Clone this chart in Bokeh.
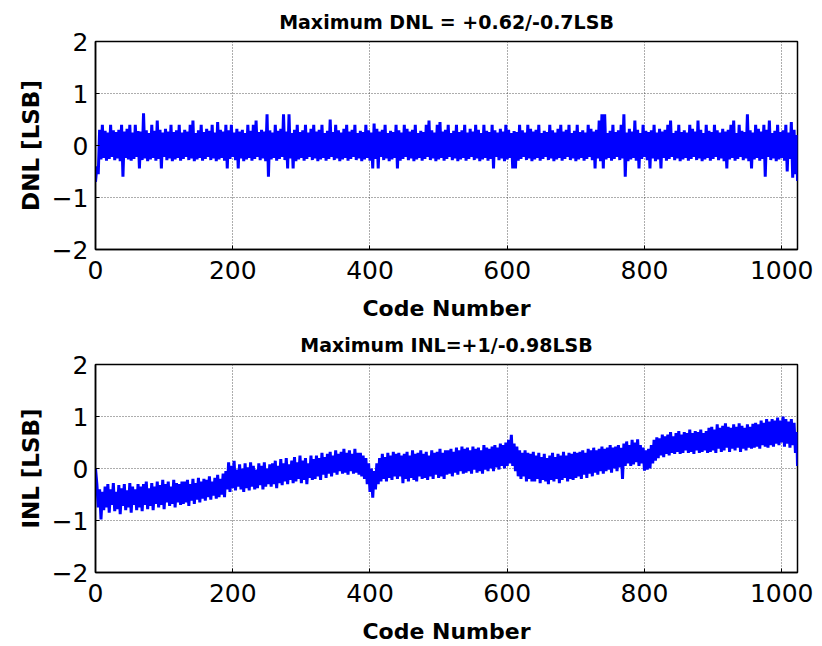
from bokeh.plotting import figure
from bokeh.layouts import column
from bokeh.models import Range1d, FixedTicker
from bokeh.embed import file_html
from bokeh.resources import INLINE

# ---- data ----
codes = list(range(0, 1024, 2)) + [1023]

dnl = [
    -0.70, -0.40, -0.55, 0.30, -0.27, 0.40, -0.24, 0.28, -0.29, 0.25, -0.26, 0.40, -0.22, 0.29, -0.28, 0.26,
    -0.25, 0.30, -0.30, 0.40, -0.60, 0.27, -0.24, 0.32, -0.27, 0.40, -0.29, 0.25, -0.26, 0.40, -0.22, 0.28,
    -0.44, 0.27, -0.28, 0.62, -0.25, 0.29, -0.30, 0.24, -0.27, 0.40, -0.24, 0.28, -0.29, 0.48, -0.26, 0.30,
    -0.44, 0.25, -0.22, 0.32, -0.28, 0.27, -0.25, 0.40, -0.30, 0.26, -0.27, 0.29, -0.24, 0.40, -0.29, 0.25,
    -0.26, 0.30, -0.22, 0.27, -0.28, 0.40, -0.25, 0.48, -0.30, 0.24, -0.27, 0.29, -0.24, 0.40, -0.29, 0.26,
    -0.26, 0.32, -0.22, 0.28, -0.28, 0.40, -0.25, 0.25, -0.30, 0.45, -0.27, 0.30, -0.24, 0.27, -0.29, 0.40,
    -0.44, 0.29, -0.26, 0.40, -0.22, 0.25, -0.28, 0.32, -0.44, 0.27, -0.25, 0.30, -0.30, 0.24, -0.27, 0.40,
    -0.24, 0.28, -0.29, 0.40, -0.26, 0.48, -0.22, 0.26, -0.28, 0.30, -0.25, 0.27, -0.30, 0.60, -0.60, 0.29,
    -0.27, 0.25, -0.24, 0.40, -0.29, 0.28, -0.26, 0.32, -0.22, 0.60, -0.28, 0.27, -0.44, 0.60, -0.25, 0.24,
    -0.44, 0.30, -0.30, 0.40, -0.27, 0.26, -0.24, 0.29, -0.29, 0.40, -0.26, 0.25, -0.22, 0.32, -0.28, 0.40,
    -0.25, 0.27, -0.30, 0.30, -0.27, 0.40, -0.24, 0.24, -0.29, 0.28, -0.26, 0.50, -0.22, 0.26, -0.28, 0.40,
    -0.25, 0.29, -0.30, 0.25, -0.27, 0.32, -0.24, 0.40, -0.29, 0.27, -0.26, 0.30, -0.22, 0.40, -0.28, 0.24,
    -0.25, 0.28, -0.30, 0.26, -0.27, 0.40, -0.24, 0.29, -0.29, 0.25, -0.44, 0.42, -0.26, 0.32, -0.44, 0.27,
    -0.22, 0.30, -0.28, 0.40, -0.25, 0.24, -0.30, 0.28, -0.27, 0.26, -0.24, 0.40, -0.44, 0.29, -0.29, 0.25,
    -0.26, 0.40, -0.22, 0.32, -0.28, 0.27, -0.25, 0.30, -0.30, 0.40, -0.27, 0.24, -0.24, 0.28, -0.29, 0.26,
    -0.26, 0.40, -0.22, 0.48, -0.28, 0.29, -0.25, 0.25, -0.30, 0.40, -0.27, 0.45, -0.24, 0.27, -0.29, 0.30,
    -0.26, 0.40, -0.22, 0.24, -0.28, 0.28, -0.25, 0.40, -0.30, 0.26, -0.27, 0.29, -0.24, 0.40, -0.29, 0.25,
    -0.26, 0.32, -0.22, 0.27, -0.28, 0.40, -0.25, 0.30, -0.30, 0.24, -0.27, 0.40, -0.24, 0.28, -0.29, 0.26,
    -0.26, 0.40, -0.44, 0.29, -0.22, 0.25, -0.28, 0.32, -0.25, 0.27, -0.30, 0.40, -0.27, 0.30, -0.24, 0.24,
    -0.44, 0.28, -0.44, 0.26, -0.29, 0.40, -0.26, 0.29, -0.22, 0.25, -0.28, 0.40, -0.25, 0.32, -0.30, 0.27,
    -0.27, 0.30, -0.24, 0.40, -0.29, 0.24, -0.26, 0.28, -0.22, 0.26, -0.28, 0.40, -0.25, 0.29, -0.30, 0.25,
    -0.27, 0.32, -0.24, 0.40, -0.29, 0.27, -0.26, 0.30, -0.22, 0.40, -0.28, 0.24, -0.25, 0.28, -0.30, 0.40,
    -0.27, 0.26, -0.24, 0.29, -0.29, 0.25, -0.26, 0.40, -0.22, 0.32, -0.28, 0.27, -0.44, 0.30, -0.25, 0.48,
    -0.30, 0.60, -0.44, 0.60, -0.27, 0.24, -0.24, 0.28, -0.29, 0.40, -0.26, 0.26, -0.22, 0.29, -0.28, 0.40,
    -0.25, 0.60, -0.60, 0.25, -0.30, 0.32, -0.27, 0.27, -0.24, 0.48, -0.29, 0.30, -0.44, 0.24, -0.26, 0.40,
    -0.22, 0.28, -0.28, 0.26, -0.44, 0.29, -0.25, 0.40, -0.30, 0.25, -0.27, 0.32, -0.44, 0.27, -0.24, 0.30,
    -0.29, 0.40, -0.26, 0.48, -0.22, 0.24, -0.28, 0.28, -0.25, 0.40, -0.30, 0.26, -0.27, 0.29, -0.24, 0.25,
    -0.29, 0.40, -0.26, 0.32, -0.22, 0.27, -0.28, 0.48, -0.25, 0.30, -0.30, 0.24, -0.27, 0.40, -0.24, 0.28,
    -0.29, 0.26, -0.26, 0.40, -0.22, 0.29, -0.28, 0.25, -0.25, 0.32, -0.30, 0.27, -0.44, 0.30, -0.27, 0.40,
    -0.24, 0.48, -0.29, 0.24, -0.26, 0.40, -0.22, 0.28, -0.28, 0.26, -0.25, 0.60, -0.30, 0.29, -0.44, 0.25,
    -0.27, 0.40, -0.24, 0.32, -0.29, 0.27, -0.26, 0.40, -0.60, 0.30, -0.22, 0.48, -0.28, 0.24, -0.25, 0.28,
    -0.30, 0.40, -0.27, 0.26, -0.24, 0.29, -0.29, 0.40, -0.50, 0.25, -0.26, 0.45, -0.62, 0.30, -0.55, 0.20,
    -0.68,
]

inl = [
    0.00, -0.30, -0.75, -0.40, -0.98, -0.45, -0.80, -0.35, -0.75, -0.30, -0.85, -0.40, -0.70, -0.28, -0.82, -0.45,
    -0.78, -0.32, -0.88, -0.38, -0.72, -0.30, -0.80, -0.42, -0.75, -0.28, -0.85, -0.35, -0.70, -0.40, -0.80, -0.30,
    -0.75, -0.35, -0.82, -0.30, -0.70, -0.25, -0.78, -0.38, -0.72, -0.28, -0.80, -0.35, -0.68, -0.25, -0.75, -0.32,
    -0.70, -0.22, -0.78, -0.30, -0.65, -0.25, -0.72, -0.35, -0.68, -0.22, -0.75, -0.28, -0.65, -0.30, -0.70, -0.25,
    -0.68, -0.25, -0.65, -0.22, -0.72, -0.30, -0.62, -0.20, -0.68, -0.28, -0.60, -0.18, -0.65, -0.25, -0.58, -0.20,
    -0.62, -0.22, -0.55, -0.15, -0.60, -0.25, -0.52, -0.18, -0.58, -0.12, -0.55, -0.20, -0.50, -0.10, -0.55, -0.05,
    -0.40, 0.12, -0.45, 0.05, -0.38, 0.15, -0.42, -0.02, -0.35, 0.08, -0.40, 0.00, -0.45, 0.10, -0.38, 0.02,
    -0.42, 0.12, -0.35, 0.05, -0.40, -0.02, -0.38, 0.10, -0.32, 0.05, -0.40, 0.12, -0.35, 0.00, -0.30, 0.08,
    -0.35, 0.10, -0.30, 0.15, -0.38, 0.05, -0.28, 0.18, -0.32, 0.10, -0.25, 0.20, -0.30, 0.08, -0.22, 0.15,
    -0.28, 0.22, -0.25, 0.12, -0.20, 0.25, -0.28, 0.15, -0.22, 0.20, -0.30, 0.10, -0.18, 0.25, -0.22, 0.18,
    -0.20, 0.25, -0.15, 0.20, -0.22, 0.30, -0.12, 0.22, -0.18, 0.28, -0.10, 0.32, -0.15, 0.25, -0.08, 0.35,
    -0.12, 0.28, -0.05, 0.32, -0.10, 0.38, -0.08, 0.30, -0.12, 0.35, -0.05, 0.28, -0.10, 0.38, -0.08, 0.30,
    -0.12, 0.30, -0.15, 0.25, -0.20, 0.20, -0.30, 0.10, -0.45, 0.00, -0.56, -0.05, -0.40, 0.10, -0.30, 0.20,
    -0.25, 0.28, -0.20, 0.22, -0.25, 0.30, -0.18, 0.25, -0.22, 0.32, -0.15, 0.28, -0.20, 0.30, -0.15, 0.25,
    -0.28, 0.28, -0.20, 0.32, -0.25, 0.25, -0.18, 0.35, -0.22, 0.28, -0.25, 0.30, -0.15, 0.35, -0.20, 0.28,
    -0.18, 0.32, -0.22, 0.25, -0.15, 0.35, -0.20, 0.30, -0.12, 0.32, -0.18, 0.38, -0.15, 0.30, -0.20, 0.35,
    -0.12, 0.35, -0.10, 0.38, -0.15, 0.32, -0.08, 0.40, -0.12, 0.35, -0.05, 0.42, -0.10, 0.38, -0.08, 0.40,
    -0.05, 0.35, -0.10, 0.42, -0.02, 0.38, -0.08, 0.40, -0.05, 0.35, -0.10, 0.45, -0.02, 0.40, -0.05, 0.38,
    0.00, 0.42, -0.05, 0.45, 0.02, 0.40, -0.02, 0.48, 0.05, 0.45, 0.00, 0.50, 0.05, 0.55, 0.10, 0.65,
    0.05, 0.48, -0.05, 0.42, -0.15, 0.35, -0.20, 0.30, -0.15, 0.35, -0.25, 0.30, -0.20, 0.28, -0.25, 0.32,
    -0.25, 0.25, -0.20, 0.30, -0.28, 0.22, -0.22, 0.28, -0.25, 0.20, -0.30, 0.25, -0.22, 0.30, -0.25, 0.22,
    -0.20, 0.28, -0.28, 0.25, -0.22, 0.32, -0.18, 0.25, -0.25, 0.30, -0.20, 0.28, -0.22, 0.32, -0.18, 0.30,
    -0.15, 0.32, -0.20, 0.35, -0.12, 0.30, -0.18, 0.38, -0.10, 0.35, -0.15, 0.40, -0.08, 0.35, -0.12, 0.38,
    -0.05, 0.42, -0.10, 0.38, -0.05, 0.40, -0.02, 0.45, -0.08, 0.40, 0.00, 0.42, -0.05, 0.45, 0.02, 0.40,
    -0.20, 0.48, 0.05, 0.52, 0.10, 0.45, 0.05, 0.55, 0.08, 0.50, 0.12, 0.56, 0.05, 0.45, 0.10, 0.40,
    -0.04, 0.35, -0.02, 0.38, 0.00, 0.45, 0.10, 0.55, 0.15, 0.60, 0.20, 0.58, 0.25, 0.65, 0.22, 0.62,
    0.28, 0.65, 0.25, 0.70, 0.30, 0.62, 0.28, 0.68, 0.32, 0.72, 0.28, 0.65, 0.30, 0.70, 0.35, 0.68,
    0.30, 0.75, 0.32, 0.68, 0.28, 0.72, 0.35, 0.70, 0.30, 0.75, 0.32, 0.68, 0.35, 0.72, 0.30, 0.78,
    0.32, 0.80, 0.35, 0.75, 0.30, 0.85, 0.38, 0.78, 0.32, 0.82, 0.35, 0.87, 0.40, 0.80, 0.32, 0.78,
    0.38, 0.85, 0.35, 0.80, 0.40, 0.87, 0.32, 0.82, 0.38, 0.78, 0.35, 0.85, 0.40, 0.80, 0.38, 0.86,
    0.40, 0.88, 0.42, 0.85, 0.38, 0.92, 0.45, 0.88, 0.42, 0.95, 0.40, 0.90, 0.45, 0.95, 0.42, 0.92,
    0.48, 0.98, 0.45, 0.92, 0.50, 1.00, 0.42, 0.95, 0.48, 0.90, 0.40, 0.95, 0.45, 0.88, 0.30, 0.70,
    0.05,
]

x_ticks = [0, 200, 400, 600, 800, 1000]
y_ticks = [-2, -1, 0, 1, 2]
y_tick_labels = {-2: "\u22122", -1: "\u22121", 0: "0", 1: "1", 2: "2"}
titles = ["Maximum DNL = +0.62/-0.7LSB", "Maximum INL=+1/-0.98LSB"]
y_labels = ["DNL [LSB]", "INL [LSB]"]
x_label = "Code Number"

FONT = "DejaVu Sans"


def make_panel(title, values, ylabel):
    p = figure(width=822, height=323,
               x_range=Range1d(0, 1023), y_range=Range1d(-2, 2),
               output_backend="svg", toolbar_location=None,
               min_border_left=95, min_border_right=25,
               min_border_top=41, min_border_bottom=68)
    p.title.text = title
    p.title.align = "center"
    p.title.text_font = FONT
    p.title.text_font_size = "19px"
    p.title.text_font_style = "bold"
    p.title.text_color = "black"
    p.title.standoff = 17

    p.line(codes, values, line_color="#0000ff", line_width=3)

    p.xaxis.ticker = FixedTicker(ticks=x_ticks)
    p.yaxis.ticker = FixedTicker(ticks=y_ticks)
    p.yaxis.major_label_overrides = y_tick_labels

    for ax in (p.xaxis[0], p.yaxis[0]):
        ax.axis_line_color = "black"
        ax.axis_line_width = 1.5
        ax.major_tick_in = 4
        ax.major_tick_out = 0
        ax.major_tick_line_color = "black"
        ax.minor_tick_line_color = None
        ax.major_label_text_font = FONT
        ax.major_label_text_font_size = "25px"
        ax.major_label_text_color = "black"
        ax.axis_label_text_font = FONT
        ax.axis_label_text_font_style = "bold"
        ax.axis_label_text_color = "black"

    p.xaxis.axis_label = x_label
    p.yaxis.axis_label = ylabel
    p.xaxis.axis_label_text_font_size = "22px"
    p.yaxis.axis_label_text_font_size = "23px"
    p.xaxis.major_label_standoff = 11
    p.xaxis.axis_label_standoff = 14
    p.yaxis.major_label_standoff = 7
    p.yaxis.axis_label_standoff = 5

    for g in (p.xgrid[0], p.ygrid[0]):
        g.grid_line_color = "#333333"
        g.grid_line_dash = "1 2"
        g.grid_line_width = 1
        g.grid_line_alpha = 0.8

    p.outline_line_color = "black"
    p.outline_line_width = 1.5
    p.outline_line_alpha = 1.0
    p.background_fill_color = "white"
    p.border_fill_color = "white"
    return p


p1 = make_panel(titles[0], dnl, y_labels[0])
p2 = make_panel(titles[1], inl, y_labels[1])
layout = column(p1, p2, spacing=0)

open("out.html", "w").write(file_html(layout, INLINE))
